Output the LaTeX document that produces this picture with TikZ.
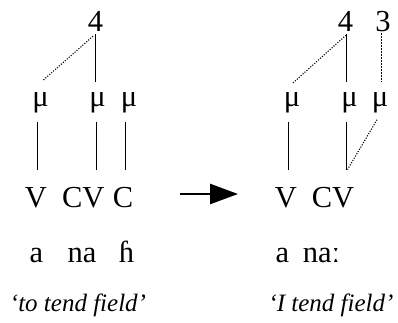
\documentclass[tikz,border=0pt]{standalone}
\usepackage{fontspec}
\setmainfont{Liberation Serif}
\usetikzlibrary{arrows.meta}
\begin{document}
\begin{tikzpicture}[x=1pt,y=-1pt,
  txt/.style={inner sep=0pt,anchor=base,font=\fontsize{30.5}{36}\selectfont},
  gl/.style={inner sep=0pt,anchor=base,font=\fontsize{25}{30}\selectfont\itshape},
  assoc/.style={line width=1pt},
  dotl/.style={line width=1.1pt,dash pattern=on 1.1pt off 1.5pt},
  dashl/.style={line width=1pt,dash pattern=on 2pt off 1pt},
  bigarrow/.style={line width=2.6pt,-{Triangle[length=28pt,width=20pt]}}]
\useasboundingbox (0,0) rectangle (398,323);
% ---------- left form ----------
\node[txt] (L4) at (95.5,32) {4};
\node[txt] (Lm1) at (40.5,107) {μ};
\node[txt] (Lm2) at (97.5,107) {μ};
\node[txt] (Lm3) at (129,107) {μ};
\node[txt] (LV) at (36,207) {V};
\node[txt] (LCV) at (83.3,207) {CV};
\node[txt] (LC2) at (123,207) {C};
\node[txt] (La) at (36.5,262) {a};
\node[txt] (Lna) at (82,262) {na};
\node[txt] (Lh) at (126.5,262) {ɦ};
\node[gl] (Lgloss) at (78,311) {‘to tend field’};
% upper links
\draw[assoc] ([yshift=-2pt]L4.south) -- ([yshift=11pt]L4.south |- Lm2.north);
\draw[dotl] ([shift={(-2.5pt,-4pt)}]L4.south) -- ([xshift=2pt,yshift=12pt]Lm1.north);
% lower links
\draw[assoc] ([xshift=1pt,yshift=-8pt]LV.north |- Lm1.south) -- ([xshift=1pt,yshift=17pt]LV.north);
\draw[assoc] ([xshift=-1.5pt,yshift=-8pt]Lm2.south) -- ([xshift=-1.5pt,yshift=17pt]Lm2.south |- LCV.north);
\draw[assoc] ([xshift=-3.5pt,yshift=-8pt]Lm3.south) -- ([xshift=-3.5pt,yshift=17pt]Lm3.south |- LC2.north);
% ---------- arrow ----------
\coordinate (arrS) at (180,194);
\coordinate (arrE) at (238,194);
\draw[bigarrow] (arrS) -- (arrE);
% ---------- right form ----------
\node[txt] (R4) at (345.5,32) {4};
\node[txt] (R3) at (383,32) {3};
\node[txt] (Rm1) at (292,107) {μ};
\node[txt] (Rm2) at (349.5,107) {μ};
\node[txt] (Rm3) at (380,107) {μ};
\node[txt] (RV) at (286,207) {V};
\node[txt] (RCV) at (333,207) {CV};
\node[txt] (Ra) at (282.5,262) {a};
\node[txt] (Rna) at (321.5,262) {naː};
\node[gl] (Rgloss) at (331,311) {‘I tend field’};
% upper links
\draw[assoc] ([xshift=1pt,yshift=-2pt]R4.south) -- ([xshift=1pt,yshift=11pt]R4.south |- Rm2.north);
\draw[dotl] ([shift={(0.5pt,-3pt)}]R4.south) -- ([yshift=9pt]Rm1.north);
\draw[dashl] ([xshift=-2pt,yshift=-1pt]R3.south) -- ([xshift=-2pt,yshift=11pt]R3.south |- Rm3.north);
% lower links
\draw[assoc] ([xshift=-4pt,yshift=-8pt]Rm1.south) -- ([xshift=-4pt,yshift=17pt]Rm1.south |- RV.north);
\draw[assoc] ([xshift=-3pt,yshift=-8pt]Rm2.south) -- ([xshift=-3pt,yshift=17pt]Rm2.south |- RCV.north);
\draw[dotl] ([xshift=-3pt,yshift=-6pt]Rm3.south) -- ([xshift=-2pt,yshift=17pt]Rm2.south |- RCV.north);
\end{tikzpicture}
\end{document}
